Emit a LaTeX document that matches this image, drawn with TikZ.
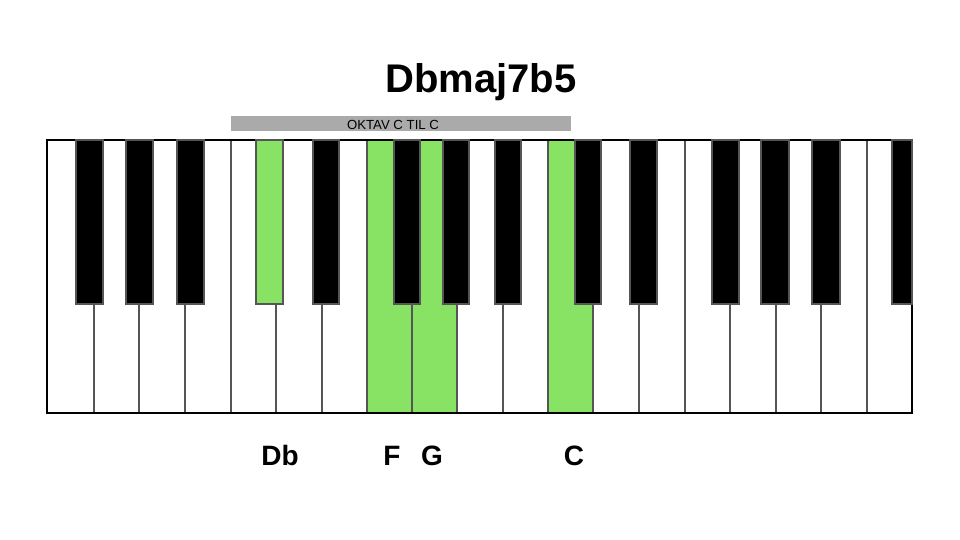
\documentclass[tikz,border=0pt]{standalone}
\usepackage{fontspec}
\setmainfont{Liberation Sans}
\usepackage{tikz}
\definecolor{keygreen}{RGB}{136,226,99}
\definecolor{keygrey}{RGB}{85,85,85}
\definecolor{bargrey}{RGB}{170,170,170}
\tikzset{
  whitekey/.style={draw=keygrey,line width=1.4pt,fill=white},
  greenkey/.style={draw=keygrey,line width=1.4pt,fill=keygreen},
  blackkey/.style={draw=keygrey,line width=1.4pt,fill=black},
  notename/.style={anchor=base,font=\bfseries\fontsize{28}{28}\selectfont}
}
\begin{document}
\begin{tikzpicture}[x=1pt,y=-1pt]
\useasboundingbox (0,0) rectangle (960,540);
% white keys
\draw[whitekey] (47,140) rectangle (94,413);
\draw[whitekey] (94,140) rectangle (139,413);
\draw[whitekey] (139,140) rectangle (185,413);
\draw[whitekey] (185,140) rectangle (231,413);
\draw[whitekey] (231,140) rectangle (276,413);
\draw[whitekey] (276,140) rectangle (322,413);
\draw[whitekey] (322,140) rectangle (367,413);
\draw[greenkey] (367,140) rectangle (412,413);
\draw[greenkey] (412,140) rectangle (457,413);
\draw[whitekey] (457,140) rectangle (503,413);
\draw[whitekey] (503,140) rectangle (548,413);
\draw[greenkey] (548,140) rectangle (593,413);
\draw[whitekey] (593,140) rectangle (639,413);
\draw[whitekey] (639,140) rectangle (685,413);
\draw[whitekey] (685,140) rectangle (730,413);
\draw[whitekey] (730,140) rectangle (776,413);
\draw[whitekey] (776,140) rectangle (821,413);
\draw[whitekey] (821,140) rectangle (867,413);
\draw[whitekey] (867,140) rectangle (912,413);
% frame
\draw[line width=1.6pt] (47,140) rectangle (912,413);
% black keys
\draw[blackkey] (76,140) rectangle (103,304);
\draw[blackkey] (126,140) rectangle (153,304);
\draw[blackkey] (177,140) rectangle (204,304);
\draw[greenkey] (256,140) rectangle (283,304);
\draw[blackkey] (313,140) rectangle (339,304);
\draw[blackkey] (394,140) rectangle (420,304);
\draw[blackkey] (443,140) rectangle (469,304);
\draw[blackkey] (495,140) rectangle (521,304);
\draw[blackkey] (575,140) rectangle (601,304);
\draw[blackkey] (630,140) rectangle (657,304);
\draw[blackkey] (712,140) rectangle (739,304);
\draw[blackkey] (761,140) rectangle (789,304);
\draw[blackkey] (812,140) rectangle (840,304);
\draw[blackkey] (892,140) rectangle (912,304);
% octave bar
\node[fill=bargrey,minimum width=340pt,minimum height=15pt,inner sep=0pt] (oktav) at (401,123.5) {};
\node[font=\fontsize{13.2}{13.2}\selectfont,inner sep=0pt] (oktavtext) at (393,124.5) {OKTAV C TIL C};
% title
\node[anchor=base,font=\bfseries\fontsize{40}{40}\selectfont] (title) at (481,93) {Dbmaj7b5};
% note names
\node[notename] (Db) at (280,465) {Db};
\node[notename] (F) at (392,465) {F};
\node[notename] (G) at (432,465) {G};
\node[notename] (C) at (574,465) {C};
\end{tikzpicture}
\end{document}
